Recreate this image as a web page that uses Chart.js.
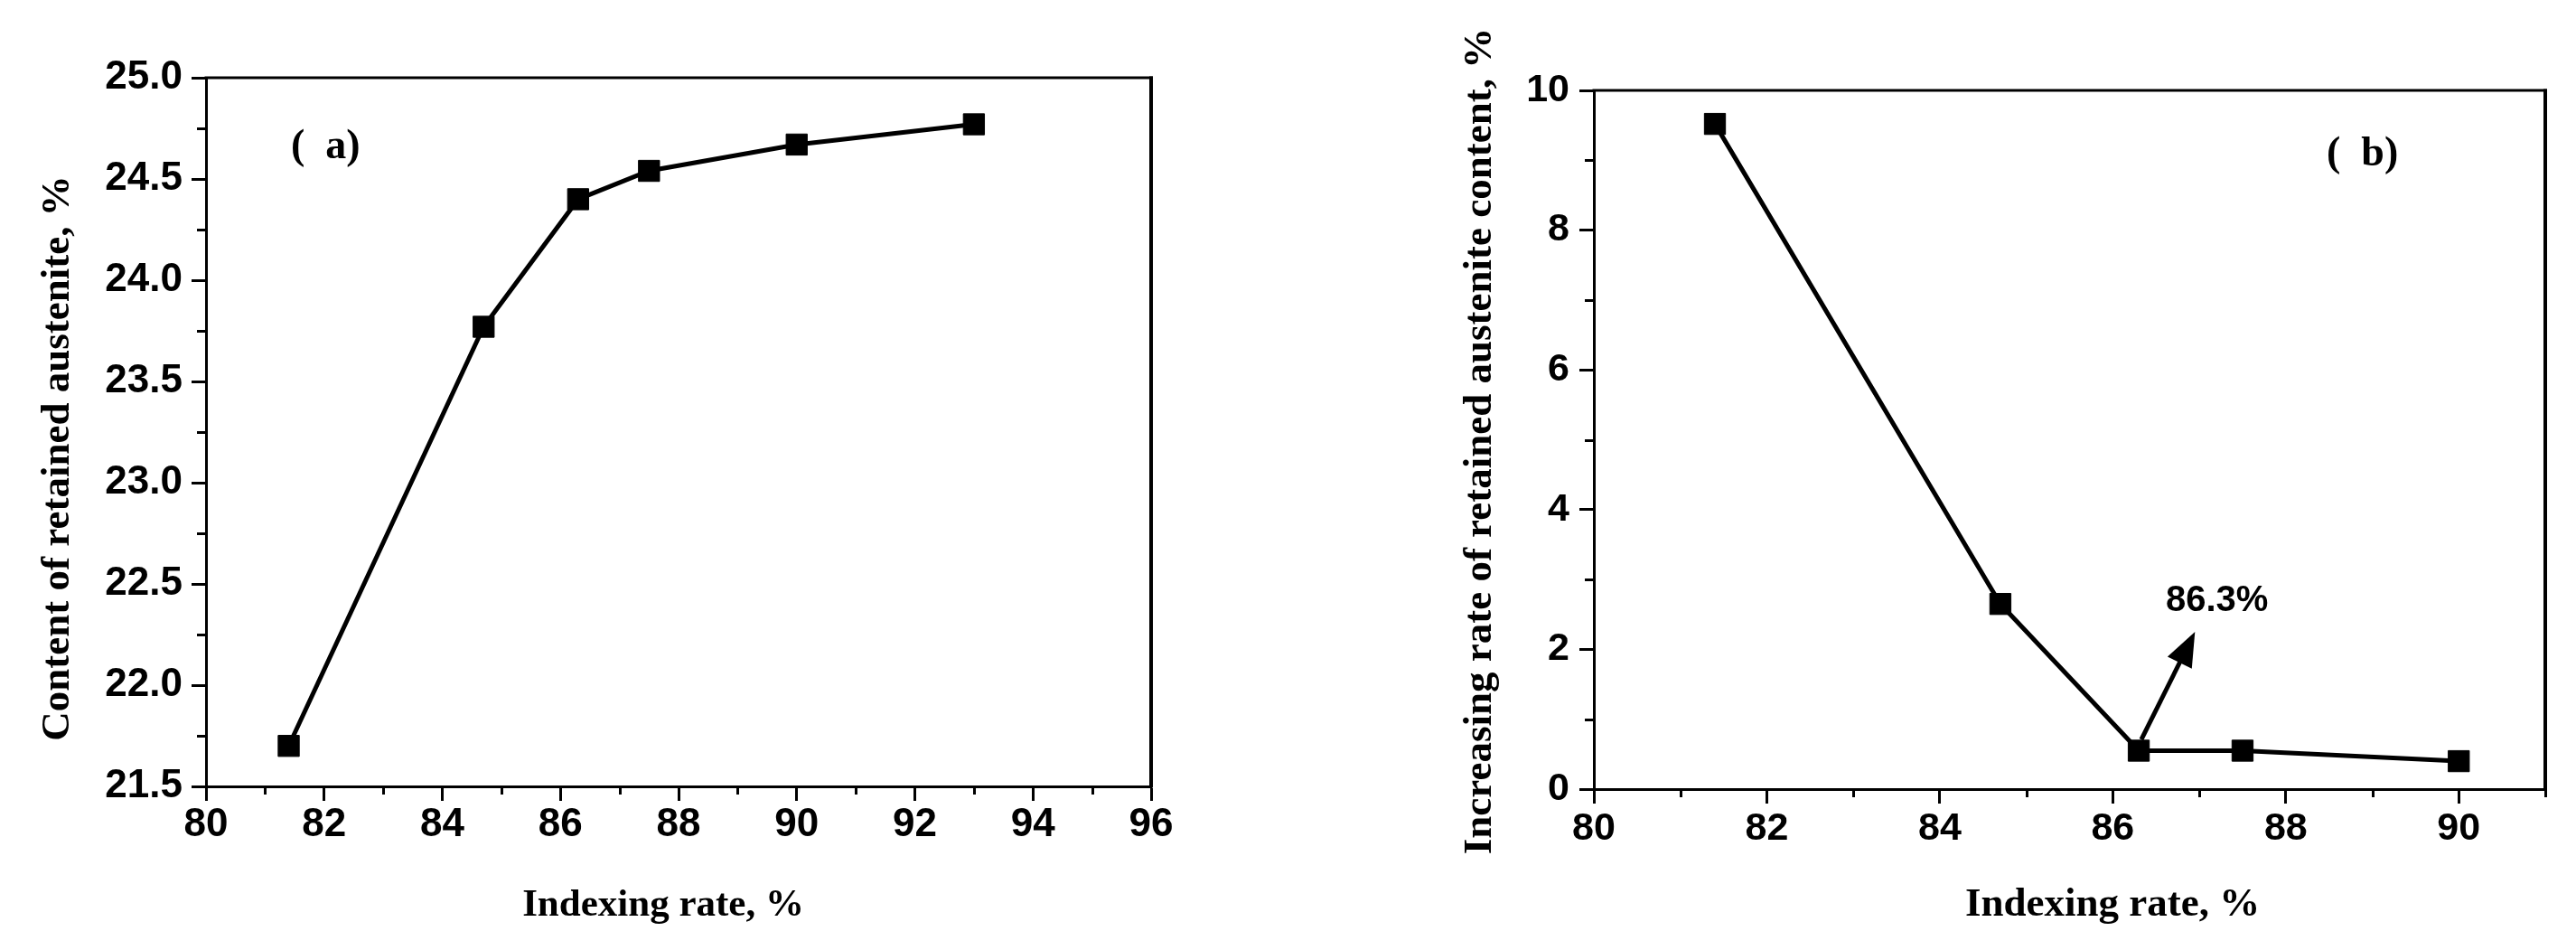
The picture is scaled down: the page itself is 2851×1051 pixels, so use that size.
<!DOCTYPE html>
<html>
<head>
<meta charset="utf-8">
<script src="https://cdn.jsdelivr.net/npm/chart.js@4.4.1/dist/chart.umd.min.js"></script>
<style>
  html, body { margin: 0; padding: 0; background: #fff; }
  #wrap { position: relative; width: 2851px; height: 1051px; overflow: hidden; background: #fff; }
  canvas { position: absolute; top: 0; }
  #cA { left: 0; }
  #cB { left: 1400px; }
</style>
</head>
<body>
<div id="wrap">
  <canvas id="cA" width="1400" height="1051"></canvas>
  <canvas id="cB" width="1451" height="1051"></canvas>
</div>
<script>
// ---------- Data (panel a) ----------
const indexingRateA = [81.4, 84.7, 86.3, 87.5, 90, 93];
const retainedAustenite = [21.7, 23.77, 24.4, 24.54, 24.67, 24.77];
// ---------- Data (panel b) ----------
const indexingRateB = [81.4, 84.7, 86.3, 87.5, 90];
const increasingRate = [9.52, 2.65, 0.55, 0.55, 0.4];
// ---------- Axis ranges / ticks ----------
const xRangeA = [80, 96];  const xStepA = 2;
const yRangeA = [21.5, 25]; const yStepA = 0.5;
const xRangeB = [80, 91];  const xStepB = 2;
const yRangeB = [0, 10];   const yStepB = 2;
// ---------- Annotation (panel b) ----------
const arrowFrom = [86.33, 0.71];
const arrowTo = [86.95, 2.25];
const arrowLabel = '86.3%';

const SERIF = "'Liberation Serif', 'Times New Roman', Times, serif";
const SANS = "'Liberation Sans', Arial, Helvetica, sans-serif";
const NARROW = "'Liberation Sans Narrow', 'Arial Narrow', 'Liberation Sans', Arial, sans-serif";

function toXY(xs, ys) { return xs.map((x, i) => ({ x: x, y: ys[i] })); }

const framePlugin = {
  id: 'frameMinor',
  afterDraw(chart, args, opts) {
    const ctx = chart.ctx, a = chart.chartArea;
    const xs = chart.scales.x, ys = chart.scales.y;
    ctx.save();
    ctx.strokeStyle = '#000';
    ctx.lineCap = 'butt';
    // top and right frame
    ctx.lineWidth = 3;
    ctx.beginPath();
    ctx.moveTo(a.left - 1.5, a.top); ctx.lineTo(a.right + 2, a.top);
    ctx.stroke();
    ctx.lineWidth = 4;
    ctx.beginPath();
    ctx.moveTo(a.right, a.top - 1.5); ctx.lineTo(a.right, a.bottom + 1.5);
    ctx.stroke();
    // minor ticks
    ctx.lineWidth = 3;
    ctx.beginPath();
    for (let v = opts.xMinor[0]; v <= opts.xMinor[1] + 1e-9; v += opts.xMinor[2]) {
      const px = Math.round(xs.getPixelForValue(v)) + 0.5;
      ctx.moveTo(px, a.bottom); ctx.lineTo(px, a.bottom + 9);
    }
    for (let v = opts.yMinor[0]; v <= opts.yMinor[1] + 1e-9; v += opts.yMinor[2]) {
      const py = Math.round(ys.getPixelForValue(v)) + 0.5;
      ctx.moveTo(a.left, py); ctx.lineTo(a.left - 10, py);
    }
    ctx.stroke();
    // texts
    ctx.fillStyle = '#000';
    for (const t of opts.texts) {
      ctx.save();
      ctx.font = t.font;
      ctx.textAlign = t.align || 'left';
      ctx.textBaseline = 'alphabetic';
      ctx.translate(t.x, t.y);
      if (t.rot) ctx.rotate(t.rot);
      ctx.fillText(t.text, 0, 0);
      ctx.restore();
    }
    // arrow
    if (opts.arrow) {
      const x0 = xs.getPixelForValue(opts.arrow.from[0]), y0 = ys.getPixelForValue(opts.arrow.from[1]);
      const x1 = xs.getPixelForValue(opts.arrow.to[0]), y1 = ys.getPixelForValue(opts.arrow.to[1]);
      const ang = Math.atan2(y1 - y0, x1 - x0);
      const hl = 38, hw = 15;
      const bx = x1 - hl * Math.cos(ang), by = y1 - hl * Math.sin(ang);
      ctx.lineWidth = 5;
      ctx.beginPath();
      ctx.moveTo(x0, y0); ctx.lineTo(bx + 4 * Math.cos(ang), by + 4 * Math.sin(ang));
      ctx.stroke();
      ctx.beginPath();
      ctx.moveTo(x1, y1);
      ctx.lineTo(bx + hw * Math.sin(ang), by - hw * Math.cos(ang));
      ctx.lineTo(bx - hw * Math.sin(ang), by + hw * Math.cos(ang));
      ctx.closePath();
      ctx.fill();
    }
    ctx.restore();
  }
};

function makeChart(canvas, cfg) {
  return new Chart(canvas, {
    type: 'scatter',
    data: {
      datasets: [{
        data: toXY(cfg.xs, cfg.ys),
        showLine: true,
        borderColor: '#000',
        borderWidth: 5,
        pointStyle: 'rect',
        pointRadius: 16.5,
        pointHoverRadius: 16.5,
        pointBackgroundColor: '#000',
        pointBorderColor: '#000',
        pointBorderWidth: 1,
        tension: 0,
        clip: false
      }]
    },
    options: {
      responsive: false,
      animation: false,
      devicePixelRatio: 1,
      events: [],
      layout: { padding: cfg.padding },
      plugins: {
        legend: { display: false },
        tooltip: { enabled: false },
        title: { display: false },
        frameMinor: cfg.frame
      },
      scales: {
        x: {
          type: 'linear',
          position: 'bottom',
          min: cfg.xRange[0], max: cfg.xRange[1],
          afterFit: s => { s.height = cfg.xHeight; },
          grid: { drawOnChartArea: false, drawTicks: true, tickLength: 16, tickWidth: 3, tickColor: '#000', color: '#000' },
          border: { display: true, color: '#000', width: 3 },
          ticks: {
            stepSize: cfg.xStep, includeBounds: false, autoSkip: false, maxRotation: 0, minRotation: 0,
            color: '#000', padding: cfg.xPad,
            font: { family: NARROW, size: cfg.tickSize, weight: 'bold', lineHeight: 1 },
            callback: v => String(v)
          }
        },
        y: {
          type: 'linear',
          position: 'left',
          min: cfg.yRange[0], max: cfg.yRange[1],
          afterFit: s => { s.width = cfg.yWidth; },
          grid: { drawOnChartArea: false, drawTicks: true, tickLength: 16, tickWidth: 3, tickColor: '#000', color: '#000' },
          border: { display: true, color: '#000', width: 3 },
          ticks: {
            stepSize: cfg.yStep, includeBounds: false, autoSkip: false,
            color: '#000', padding: cfg.yPad,
            font: { family: NARROW, size: cfg.tickSize, weight: 'bold', lineHeight: 1 },
            callback: cfg.yFmt
          }
        }
      }
    },
    plugins: [framePlugin]
  });
}

// Panel (a): chart area 228..1274 x 86..870
makeChart(document.getElementById('cA'), {
  xs: indexingRateA, ys: retainedAustenite,
  xRange: xRangeA, yRange: yRangeA, xStep: xStepA, yStep: yStepA,
  padding: { left: 0, top: 86, right: 126, bottom: 0 },
  yWidth: 228, xHeight: 181, xPad: 5, yPad: 10, tickSize: 44,
  yFmt: v => Number(v).toFixed(1),
  frame: {
    xMinor: [81, 95, 2],
    yMinor: [21.75, 24.75, 0.5],
    texts: [
      { text: 'Content of retained austenite, %', font: 'bold 45px ' + SERIF, x: 76, y: 507, rot: -Math.PI / 2, align: 'center' },
      { text: 'Indexing rate, %', font: 'bold 43px ' + SERIF, x: 734, y: 1013, align: 'center' },
      { text: '(  a)', font: 'bold 46px ' + SERIF, x: 322, y: 175, align: 'left' }
    ]
  }
});

// Panel (b): chart area 1764..2817 (364..1417 in canvas) x 100..873
makeChart(document.getElementById('cB'), {
  xs: indexingRateB, ys: increasingRate,
  xRange: xRangeB, yRange: yRangeB, xStep: xStepB, yStep: yStepB,
  padding: { left: 0, top: 100, right: 34, bottom: 0 },
  yWidth: 364, xHeight: 178, xPad: 7, yPad: 11, tickSize: 43,
  yFmt: v => String(v),
  frame: {
    xMinor: [81, 91, 2],
    yMinor: [1, 9, 2],
    texts: [
      { text: 'Increasing rate of retained austenite content, %', font: 'bold 45px ' + SERIF, x: 250, y: 488, rot: -Math.PI / 2, align: 'center' },
      { text: 'Indexing rate, %', font: 'bold 45px ' + SERIF, x: 938, y: 1013, align: 'center' },
      { text: '(  b)', font: 'bold 46px ' + SERIF, x: 1175, y: 183, align: 'left' },
      { text: arrowLabel, font: 'bold 40px ' + SANS, x: 997, y: 676, align: 'left' }
    ],
    arrow: { from: arrowFrom, to: arrowTo }
  }
});
</script>
</body>
</html>
